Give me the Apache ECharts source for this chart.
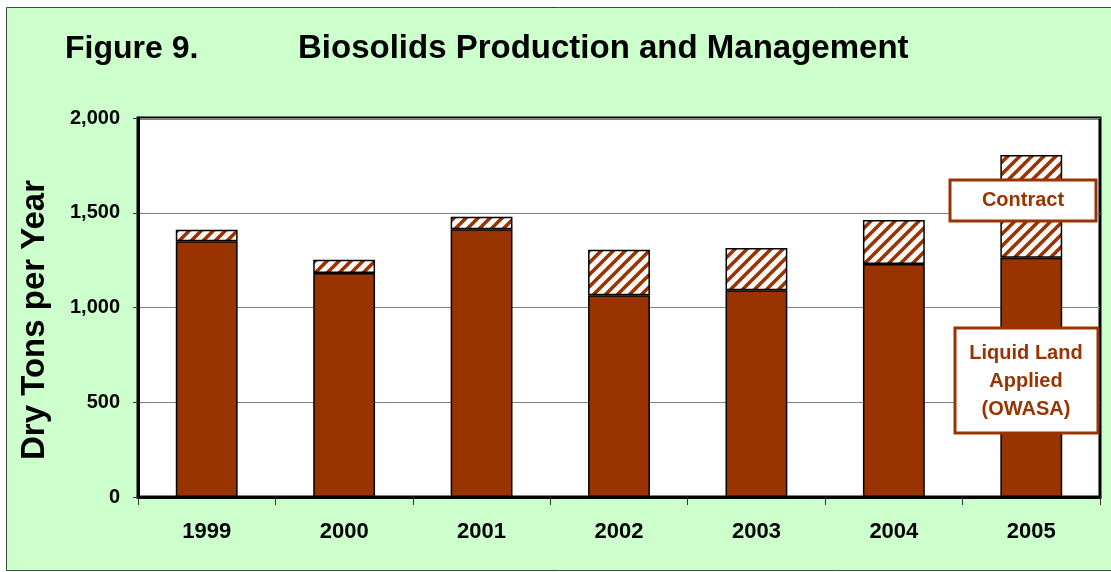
<!DOCTYPE html>
<html>
<head>
<meta charset="utf-8">
<script src="https://cdn.jsdelivr.net/npm/echarts@6/dist/echarts.min.js"></script>
<style>
    html, body { margin: 0; padding: 0; background: #fff; }
    #chart { width: 1111px; height: 572px; }
</style>
</head>
<body>
<div id="chart"></div>
<script>
// data (dry tons per year)
var years = ['1999', '2000', '2001', '2002', '2003', '2004', '2005'];
var liquidLand = [1350, 1182, 1413, 1064, 1091, 1230, 1262];
var contract = [60, 70, 66, 241, 223, 232, 543];
var yTicks = [0, 500, 1000, 1500, 2000];

var FONT = 'Arial, "Liberation Sans", sans-serif';
var BROWN = '#993300';

// diagonal hatch for the contract part
var hatch = document.createElement('canvas');
hatch.width = 12;
hatch.height = 12;
var ctx = hatch.getContext('2d');
ctx.fillStyle = '#fff';
ctx.fillRect(0, 0, 12, 12);
ctx.strokeStyle = BROWN;
ctx.lineWidth = 3.5;
[[-6, 6, 6, -6], [0, 12, 12, 0], [6, 18, 18, 6]].forEach(function(l) {
    ctx.beginPath();
    ctx.moveTo(l[0], l[1]);
    ctx.lineTo(l[2], l[3]);
    ctx.stroke();
});

var myChart = echarts.init(document.getElementById('chart'));

var option = {
    backgroundColor: '#fff',
    animation: false,
    grid: {
        left: 138,
        right: 11,
        top: 118,
        bottom: 75,
        show: true,
        backgroundColor: '#fff',
        borderColor: '#000',
        borderWidth: 3
    },
    xAxis: {
        type: 'category',
        data: years,
        axisLine: { lineStyle: { color: '#000', width: 3 } },
        axisTick: { show: true, alignWithLabel: false, length: 8, lineStyle: { color: '#333', width: 1 } },
        axisLabel: { color: '#000', fontFamily: FONT, fontWeight: 'bold', fontSize: 22, margin: 24 }
    },
    yAxis: {
        type: 'value',
        min: yTicks[0],
        max: yTicks[yTicks.length - 1],
        interval: 500,
        axisLine: { show: true, lineStyle: { color: '#000', width: 3 } },
        axisTick: { show: true, length: 5, lineStyle: { color: '#333', width: 1 } },
        axisLabel: {
            color: '#000', fontFamily: FONT, fontWeight: 'bold', fontSize: 20, margin: 18,
            formatter: function(v) { return echarts.format.addCommas(v); }
        },
        splitLine: { lineStyle: { color: '#808080', width: 1 } }
    },
    series: [{
        name: 'Liquid Land Applied (OWASA)',
        type: 'bar',
        stack: 'total',
        barWidth: '45%',
        data: liquidLand,
        itemStyle: { color: BROWN, borderColor: '#000', borderWidth: 1.5 }
    }, {
        name: 'Contract',
        type: 'bar',
        stack: 'total',
        barWidth: '45%',
        data: contract,
        itemStyle: { color: { image: hatch, repeat: 'repeat' }, borderColor: '#000', borderWidth: 1.5 }
    }],
    graphic: [
        // green frame
        {
            type: 'rect', z: -10, silent: true,
            shape: { x: 6.5, y: 7.5, width: 1130, height: 563 },
            style: { fill: '#CCFFCC', stroke: '#444', lineWidth: 1 }
        },
        {
            type: 'text', left: 65, top: 33,
            style: { text: 'Figure 9.', font: 'bold 32px ' + FONT, fill: '#000' }
        },
        {
            type: 'text', left: 298, top: 32,
            style: { text: 'Biosolids Production and Management', font: 'bold 33px ' + FONT, fill: '#000' }
        },
        {
            type: 'text', x: 35, y: 320, rotation: Math.PI / 2,
            style: { text: 'Dry Tons per Year', font: 'bold 33px ' + FONT, fill: '#000', align: 'center', verticalAlign: 'middle' }
        },
        // series labels
        {
            type: 'rect', z: 100,
            shape: { x: 950, y: 180, width: 146, height: 41 },
            style: { fill: '#fff', stroke: BROWN, lineWidth: 3 }
        },
        {
            type: 'text', z: 101, x: 1023, y: 200,
            style: { text: 'Contract', font: 'bold 20px ' + FONT, fill: BROWN, align: 'center', verticalAlign: 'middle' }
        },
        {
            type: 'rect', z: 100,
            shape: { x: 955, y: 328, width: 143, height: 105 },
            style: { fill: '#fff', stroke: BROWN, lineWidth: 3 }
        },
        {
            type: 'text', z: 101, x: 1026, y: 381,
            style: { text: 'Liquid Land\nApplied\n(OWASA)', font: 'bold 20px ' + FONT, lineHeight: 28, fill: BROWN, align: 'center', verticalAlign: 'middle' }
        }
    ]
};

myChart.setOption(option);
</script>
</body>
</html>
